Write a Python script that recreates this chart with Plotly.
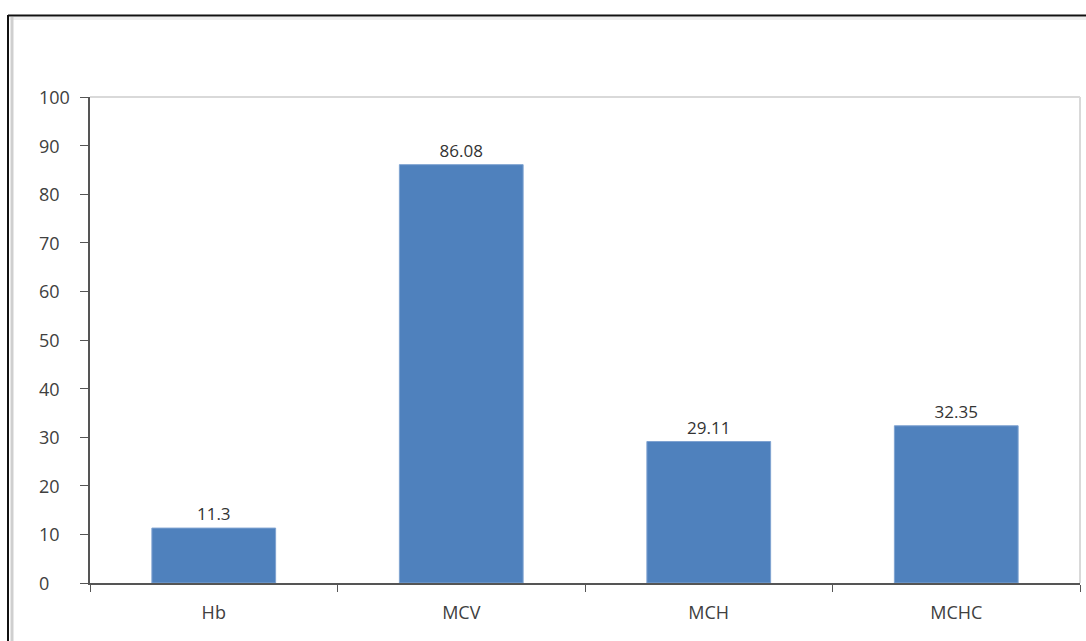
import plotly.graph_objects as go

categories = ["Hb", "MCV", "MCH", "MCHC"]
values = [11.3, 86.08, 29.11, 32.35]
labels = ["11.3", "86.08", "29.11", "32.35"]
y_ticks = [0, 10, 20, 30, 40, 50, 60, 70, 80, 90, 100]

W, H = 1086, 641
L, R, T, B = 90, 6, 97, 58
pw, ph = W - L - R, H - T - B


def px_x(p):
    return (p - L) / pw


def px_y(p):
    return (H - B - p) / ph


FONT = "Open Sans"
TXT = "#404040"

fig = go.Figure(
    go.Bar(
        x=categories,
        y=values,
        text=labels,
        textposition="outside",
        textfont=dict(family=FONT, size=17, color="#333333"),
        cliponaxis=False,
        marker=dict(color="#4F81BD", line=dict(color="#7FA3D1", width=1)),
        width=0.5,
    )
)

# y tick labels are left-aligned in a column at the left of the axis
y_label_annotations = [
    dict(x=px_x(37), xref="paper", y=v, yref="y", text=str(v), showarrow=False,
         xanchor="left", yanchor="middle",
         font=dict(family=FONT, size=18, color=TXT))
    for v in y_ticks
]

fig.update_layout(
    width=W,
    height=H,
    margin=dict(l=L, r=R, t=T, b=B),
    paper_bgcolor="white",
    plot_bgcolor="white",
    showlegend=False,
    xaxis=dict(
        type="category",
        showgrid=False,
        showline=True,
        linecolor="#555555",
        linewidth=1.5,
        ticks="outside",
        tickson="boundaries",
        ticklen=7,
        tickcolor="#555555",
        tickfont=dict(family=FONT, size=18, color=TXT),
        ticklabelstandoff=13,
    ),
    yaxis=dict(
        range=[0, 100],
        tickvals=y_ticks,
        showticklabels=False,
        showgrid=False,
        showline=True,
        linecolor="#555555",
        linewidth=1.5,
        ticks="outside",
        ticklen=8,
        tickcolor="#555555",
        zeroline=False,
    ),
    annotations=y_label_annotations,
    shapes=[
        # light frame of the plot area
        dict(type="line", xref="paper", yref="paper", x0=0, x1=1, y0=1, y1=1,
             line=dict(color="#D9D9D9", width=2)),
        dict(type="line", xref="paper", yref="paper", x0=1, x1=1, y0=0, y1=1,
             line=dict(color="#D9D9D9", width=2)),
        # outer chart border
        dict(type="line", xref="paper", yref="paper", x0=px_x(8), x1=px_x(W + 5),
             y0=px_y(15.5), y1=px_y(15.5), line=dict(color="#111111", width=2)),
        dict(type="line", xref="paper", yref="paper", x0=px_x(9), x1=px_x(W + 5),
             y0=px_y(18.5), y1=px_y(18.5), line=dict(color="#EEEEEE", width=3)),
        dict(type="line", xref="paper", yref="paper", x0=px_x(8), x1=px_x(8),
             y0=px_y(15), y1=px_y(H + 5), line=dict(color="#111111", width=2)),
        dict(type="line", xref="paper", yref="paper", x0=px_x(12), x1=px_x(12),
             y0=px_y(17), y1=px_y(H + 5), line=dict(color="#CFCFCF", width=3)),
    ],
)

fig.write_html("out.html")
